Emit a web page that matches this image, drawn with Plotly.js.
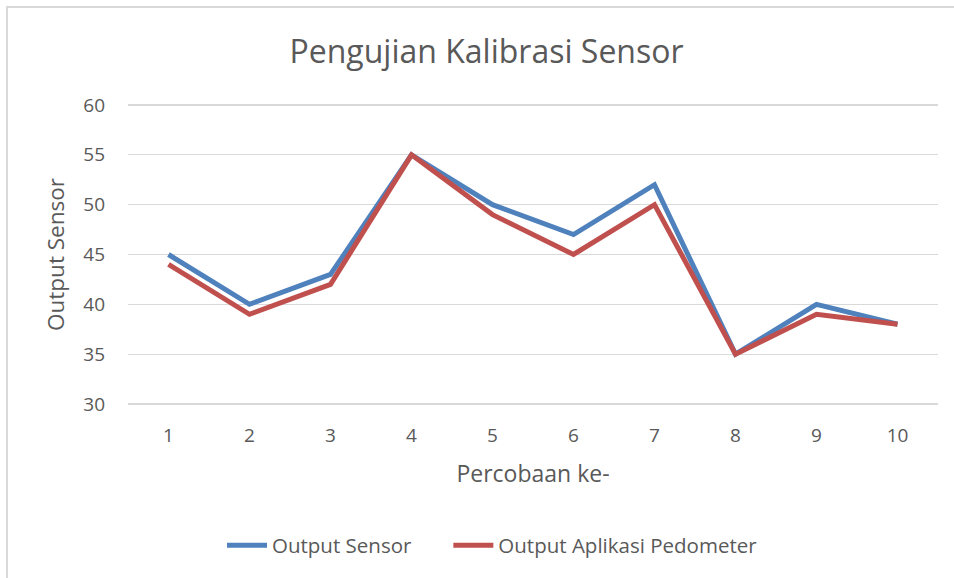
<!DOCTYPE html>
<html><head><meta charset="utf-8">
<script src="https://cdn.plot.ly/plotly-3.0.1.min.js"></script>
<style>
html,body{margin:0;padding:0;background:#fff;overflow:hidden}
#frame{position:absolute;left:6px;top:6px;width:980px;height:600px;border:2px solid #d9d9d9;box-sizing:border-box;pointer-events:none}
#chart{position:absolute;left:0;top:0;width:954px;height:578px}
</style></head>
<body>
<div id="chart"></div>
<div id="frame"></div>
<script>
const categories = ["1","2","3","4","5","6","7","8","9","10"];
const outputSensor = [45,40,43,55,50,47,52,35,40,38];
const outputPedometer = [44,39,42,55,49,45,50,35,39,38];
const yTicks = [30,35,40,45,50,55,60];

const font = "Open Sans, sans-serif";
const pad = "\u00a0\u00a0\u00a0\u00a0\u00a0\u00a0";
const traces = [
  {x: categories, y: outputSensor, type: "scatter", mode: "lines", name: "Output Sensor" + pad,
   line: {color: "#4f81bd", width: 5}},
  {x: categories, y: outputPedometer, type: "scatter", mode: "lines", name: "Output Aplikasi Pedometer",
   line: {color: "#c0504d", width: 5}}
];
const layout = {
  width: 954, height: 578,
  margin: {l: 128, r: 16, t: 103, b: 172},
  paper_bgcolor: "rgba(0,0,0,0)", plot_bgcolor: "#fff",
  font: {family: font, color: "#595959", size: 19},
  title: {text: "Pengujian Kalibrasi Sensor", font: {size: 32, color: "#595959", family: font},
          x: 0.51, xanchor: "center", y: 0.91, yanchor: "middle"},
  xaxis: {type: "category", range: [-0.5, 9.5], showgrid: false, zeroline: false,
          showline: false, ticks: "", ticklabelstandoff: 16,
          tickfont: {size: 19, color: "#595959"},
          title: {text: "Percobaan ke-", font: {size: 23, color: "#595959"}, standoff: 18}},
  yaxis: {range: [29.8, 60.2], tickvals: yTicks, showgrid: true, gridcolor: "#d9d9d9", gridwidth: 1.3,
          zeroline: false, showline: false, ticks: "", ticklabelstandoff: 22,
          tickfont: {size: 19, color: "#595959"},
          title: {text: "Output Sensor", font: {size: 22.5, color: "#595959"}, standoff: 12}},
  showlegend: true,
  legend: {orientation: "h", x: 0.45, xanchor: "center", y: -0.46, yanchor: "middle",
           font: {size: 20.5, color: "#595959"}, itemwidth: 40, tracegroupgap: 0},
};
Plotly.newPlot("chart", traces, layout, {displayModeBar: false, staticPlot: true});
</script>
</body></html>
